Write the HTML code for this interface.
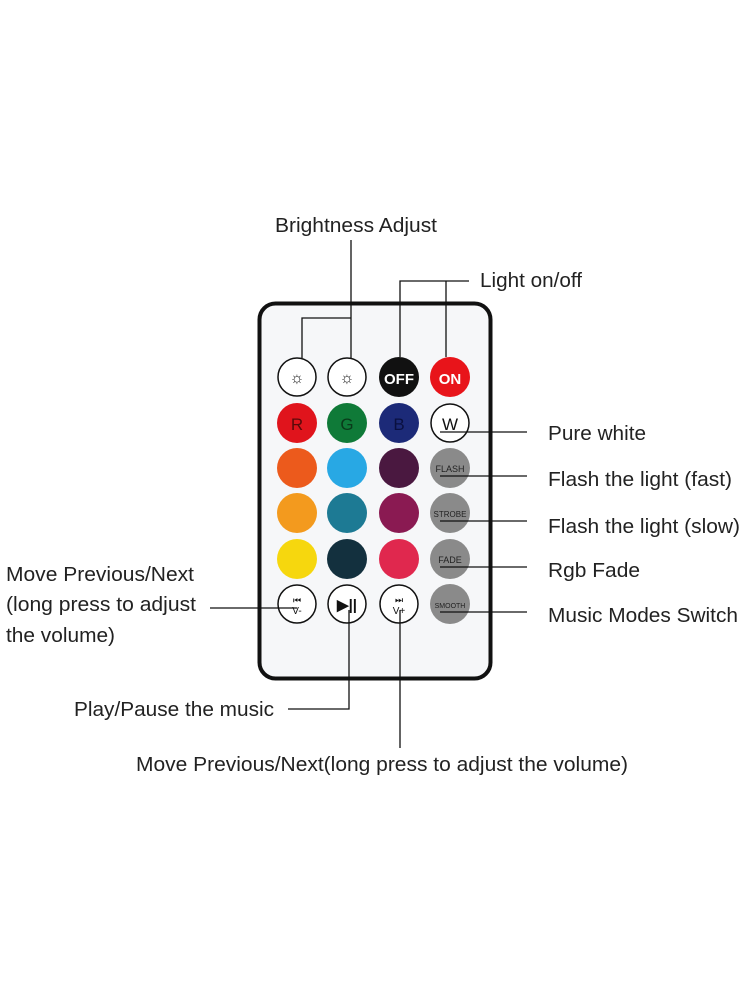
<!DOCTYPE html>
<html><head><meta charset="utf-8"><style>
html,body{margin:0;padding:0;background:#fff;}
svg{display:block;}
text{font-family:"Liberation Sans",Arial,sans-serif;font-size:20px;fill:#222;}
.bt{font-family:"Liberation Sans",sans-serif;font-weight:bold;}
</style></head><body>
<svg width="746" height="995" viewBox="0 0 746 995" xmlns="http://www.w3.org/2000/svg">
<rect x="259.5" y="303.5" width="231" height="375" rx="16" fill="#f6f7f9" stroke="#111" stroke-width="4"/>
<g stroke="none">
<circle cx="297" cy="377" r="19" fill="#fff" stroke="#111" stroke-width="1.5"/>
<circle cx="347" cy="377" r="19" fill="#fff" stroke="#111" stroke-width="1.5"/>
<circle cx="399" cy="377" r="20" fill="#111"/>
<circle cx="450" cy="377" r="20" fill="#e8141a"/>
<circle cx="297" cy="423" r="20" fill="#e0141c"/>
<circle cx="347" cy="423" r="20" fill="#0f7a38"/>
<circle cx="399" cy="423" r="20" fill="#1c2a78"/>
<circle cx="450" cy="423" r="19" fill="#fff" stroke="#111" stroke-width="1.5"/>
<circle cx="297" cy="468" r="20" fill="#ec5a1c"/>
<circle cx="347" cy="468" r="20" fill="#28a8e4"/>
<circle cx="399" cy="468" r="20" fill="#4a1840"/>
<circle cx="450" cy="468" r="20" fill="#8a8a8a"/>
<circle cx="297" cy="513" r="20" fill="#f39a1e"/>
<circle cx="347" cy="513" r="20" fill="#1d7a94"/>
<circle cx="399" cy="513" r="20" fill="#8a1a52"/>
<circle cx="450" cy="513" r="20" fill="#8a8a8a"/>
<circle cx="297" cy="559" r="20" fill="#f6d70e"/>
<circle cx="347" cy="559" r="20" fill="#13303e"/>
<circle cx="399" cy="559" r="20" fill="#e0284e"/>
<circle cx="450" cy="559" r="20" fill="#8a8a8a"/>
<circle cx="297" cy="604" r="19" fill="#fff" stroke="#111" stroke-width="1.5"/>
<circle cx="347" cy="604" r="19" fill="#fff" stroke="#111" stroke-width="1.5"/>
<circle cx="399" cy="604" r="19" fill="#fff" stroke="#111" stroke-width="1.5"/>
<circle cx="450" cy="604" r="20" fill="#8a8a8a"/>
</g>
<text x="297" y="383" text-anchor="middle" style="font-size:16px">☼</text>
<text x="347" y="383" text-anchor="middle" style="font-size:16px">☼</text>
<text x="399" y="384" text-anchor="middle" class="bt" style="font-size:15px;fill:#fff">OFF</text>
<text x="450" y="384" text-anchor="middle" class="bt" style="font-size:15px;fill:#fff">ON</text>
<text x="297" y="430" text-anchor="middle" style="font-size:17px;fill:#5a0a0a">R</text>
<text x="347" y="430" text-anchor="middle" style="font-size:17px;fill:#0a3a1a">G</text>
<text x="399" y="430" text-anchor="middle" style="font-size:17px;fill:#0a1040">B</text>
<text x="450" y="430" text-anchor="middle" style="font-size:17px;fill:#111">W</text>
<text x="450" y="472" text-anchor="middle" style="font-size:9px;fill:#222">FLASH</text>
<text x="450" y="517" text-anchor="middle" style="font-size:8px;fill:#222">STROBE</text>
<text x="450" y="563" text-anchor="middle" style="font-size:9px;fill:#222">FADE</text>
<text x="450" y="608" text-anchor="middle" style="font-size:7px;fill:#222">SMOOTH</text>
<text x="297" y="603" text-anchor="middle" style="font-size:9px;fill:#111">⏮</text>
<text x="297" y="614" text-anchor="middle" style="font-size:10px;fill:#111">V-</text>
<text x="347" y="610" text-anchor="middle" class="bt" style="font-size:15px;fill:#111">▶||</text>
<text x="399" y="603" text-anchor="middle" style="font-size:9px;fill:#111">⏭</text>
<text x="399" y="614" text-anchor="middle" style="font-size:10px;fill:#111">V+</text>
<g stroke="#111" stroke-width="1.3" fill="none">
<path d="M351 240 V358"/>
<path d="M351 318 H302 V358"/>
<path d="M469 281 H400 V357"/>
<path d="M446 281 V357"/>
<path d="M440 432 H527"/>
<path d="M440 476 H527"/>
<path d="M440 521 H527"/>
<path d="M440 567 H527"/>
<path d="M440 612 H527"/>
<path d="M210 608 H297"/>
<path d="M349 610 V709 H288"/>
<path d="M400 610 V748"/>
</g>
<text x="275" y="232" textLength="162" lengthAdjust="spacingAndGlyphs">Brightness Adjust</text>
<text x="480" y="287" textLength="102" lengthAdjust="spacingAndGlyphs">Light on/off</text>
<text x="548" y="440" textLength="98" lengthAdjust="spacingAndGlyphs">Pure white</text>
<text x="548" y="486" textLength="184" lengthAdjust="spacingAndGlyphs">Flash the light (fast)</text>
<text x="548" y="533" textLength="192" lengthAdjust="spacingAndGlyphs">Flash the light (slow)</text>
<text x="548" y="577" textLength="92" lengthAdjust="spacingAndGlyphs">Rgb Fade</text>
<text x="548" y="622" textLength="190" lengthAdjust="spacingAndGlyphs">Music Modes Switch</text>
<text x="6" y="581" textLength="188" lengthAdjust="spacingAndGlyphs">Move Previous/Next</text>
<text x="6" y="611" textLength="190" lengthAdjust="spacingAndGlyphs">(long press to adjust</text>
<text x="6" y="642" textLength="109" lengthAdjust="spacingAndGlyphs">the volume)</text>
<text x="74" y="716" textLength="200" lengthAdjust="spacingAndGlyphs">Play/Pause the music</text>
<text x="136" y="771" textLength="492" lengthAdjust="spacingAndGlyphs">Move Previous/Next(long press to adjust the volume)</text>
</svg>
</body></html>
